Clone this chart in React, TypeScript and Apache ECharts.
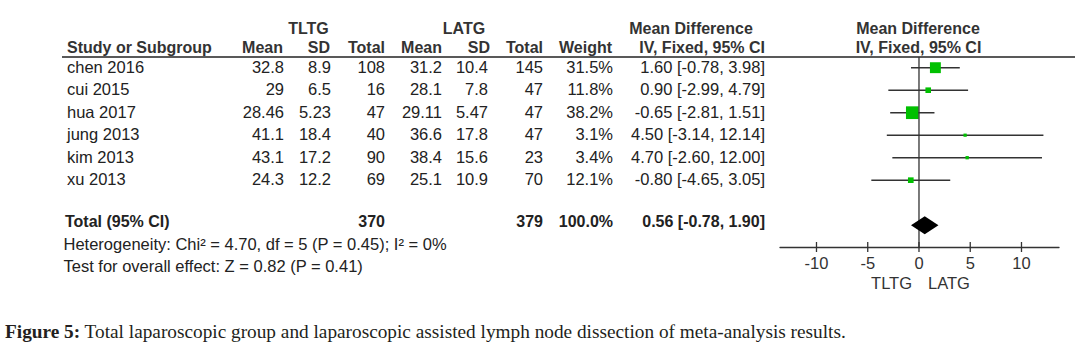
import React, { useEffect, useRef } from "react";
import * as echarts from "echarts";

const STUDIES = ["chen 2016", "cui 2015", "hua 2017", "jung 2013", "kim 2013", "xu 2013"];
const TLTG_MEAN = [32.8, 29, 28.46, 41.1, 43.1, 24.3];
const TLTG_SD = [8.9, 6.5, 5.23, 18.4, 17.2, 12.2];
const TLTG_TOTAL = [108, 16, 47, 40, 90, 69];
const LATG_MEAN = [31.2, 28.1, 29.11, 36.6, 38.4, 25.1];
const LATG_SD = [10.4, 7.8, 5.47, 17.8, 15.6, 10.9];
const LATG_TOTAL = [145, 47, 47, 47, 23, 70];
const WEIGHT = [31.5, 11.8, 38.2, 3.1, 3.4, 12.1];
const MD = [1.6, 0.9, -0.65, 4.5, 4.7, -0.8];
const CI_LOW = [-0.78, -2.99, -2.81, -3.14, -2.6, -4.65];
const CI_HIGH = [3.98, 4.79, 1.51, 12.14, 12.0, 3.05];
const TOTAL_N = [370, 379];
const TOTAL_WEIGHT = 100.0;
const POOLED = [0.56, -0.78, 1.9];
const X_TICKS = [-10, -5, 0, 5, 10];
const HETEROGENEITY = "Heterogeneity: Chi² = 4.70, df = 5 (P = 0.45); I² = 0%";
const OVERALL = "Test for overall effect: Z = 0.82 (P = 0.41)";
const GROUP_LEFT = "TLTG";
const GROUP_RIGHT = "LATG";
const CAPTION_BOLD = "Figure 5:";
const CAPTION = " Total laparoscopic group and laparoscopic assisted lymph node dissection of meta-analysis results.";

// layout
const X_MIN = -13.56;
const X_MAX = 13.66;
const Y_MIN = -0.475;
const Y_MAX = 7.969;
const TOTAL_ROW = 7;
const FONT = '"Liberation Sans", Arial, sans-serif';
const FS = 16.5;
const FSB = 16;
const TXT = "#222";
const HDR = "#333";
const ROW0 = 66.5;
const ROWH = 22.5;

function txt(text: string, x: number, y: number, align: string, bold = false, color = TXT) {
  return {
    type: "text",
    silent: true,
    style: {
      text,
      x,
      y,
      fontSize: bold ? FSB : FS,
      fontFamily: FONT,
      fontWeight: bold ? "bold" : "normal",
      fill: color,
      align,
      verticalAlign: "middle",
    },
  };
}

const fmt = (v: number) => String(v);
const ci = (m: number, l: number, h: number) => `${m.toFixed(2)} [${l.toFixed(2)}, ${h.toFixed(2)}]`;

function buildGraphics() {
  const g: any[] = [];
  // headers
  g.push(txt(GROUP_LEFT, 308.5, 28, "center", true, HDR));
  g.push(txt(GROUP_RIGHT, 464, 28, "center", true, HDR));
  g.push(txt("Mean Difference", 691, 28, "center", true, HDR));
  g.push(txt("Mean Difference", 918, 28, "center", true, HDR));
  const y2 = 47;
  g.push(txt("Study or Subgroup", 67, y2, "left", true, HDR));
  g.push(txt("Mean", 283, y2, "right", true, HDR));
  g.push(txt("SD", 330, y2, "right", true, HDR));
  g.push(txt("Total", 385, y2, "right", true, HDR));
  g.push(txt("Mean", 442, y2, "right", true, HDR));
  g.push(txt("SD", 490, y2, "right", true, HDR));
  g.push(txt("Total", 543, y2, "right", true, HDR));
  g.push(txt("Weight", 612, y2, "right", true, HDR));
  g.push(txt("IV, Fixed, 95% CI", 765, y2, "right", true, HDR));
  g.push(txt("IV, Fixed, 95% CI", 918.5, y2, "center", true, HDR));
  g.push({
    type: "line",
    silent: true,
    shape: { x1: 62, y1: 57, x2: 1075, y2: 57 },
    style: { stroke: "#222", lineWidth: 1.3 },
  });
  // rows
  STUDIES.forEach((s, i) => {
    const y = ROW0 + ROWH * i;
    g.push(txt(s, 67, y, "left"));
    g.push(txt(fmt(TLTG_MEAN[i]), 284, y, "right"));
    g.push(txt(fmt(TLTG_SD[i]), 331, y, "right"));
    g.push(txt(fmt(TLTG_TOTAL[i]), 385, y, "right"));
    g.push(txt(fmt(LATG_MEAN[i]), 442, y, "right"));
    g.push(txt(fmt(LATG_SD[i]), 488, y, "right"));
    g.push(txt(fmt(LATG_TOTAL[i]), 543, y, "right"));
    g.push(txt(`${WEIGHT[i].toFixed(1)}%`, 613, y, "right"));
    g.push(txt(ci(MD[i], CI_LOW[i], CI_HIGH[i]), 765, y, "right"));
  });
  // totals
  const yt = 221;
  g.push(txt("Total (95% CI)", 65, yt, "left", true));
  g.push(txt(String(TOTAL_N[0]), 385, yt, "right", true));
  g.push(txt(String(TOTAL_N[1]), 543, yt, "right", true));
  g.push(txt(`${TOTAL_WEIGHT.toFixed(1)}%`, 613, yt, "right", true));
  g.push(txt(ci(POOLED[0], POOLED[1], POOLED[2]), 765, yt, "right", true));
  g.push(txt(HETEROGENEITY, 63.5, 243.5, "left"));
  g.push(txt(OVERALL, 63.5, 266, "left"));
  // favours labels
  g.push(txt(GROUP_LEFT, 912, 283, "right", false, HDR));
  g.push(txt(GROUP_RIGHT, 928, 283, "left", false, HDR));
  // caption
  const SERIF = '"Liberation Serif", "Times New Roman", serif';
  g.push({
    type: "text",
    silent: true,
    style: {
      text: `{b|${CAPTION_BOLD}}${CAPTION}`,
      x: 5,
      y: 331.5,
      fontSize: 19.3,
      fontFamily: SERIF,
      fill: "#231f20",
      align: "left",
      verticalAlign: "middle",
      rich: {
        b: { fontSize: 19.3, fontWeight: "bold", fontFamily: SERIF, fill: "#231f20" },
      },
    },
  });
  return g;
}

export default function App() {
  const ref = useRef<HTMLDivElement>(null);
  useEffect(() => {
    if (!ref.current) return;
    const chart = echarts.init(ref.current, null, { renderer: "svg" });
    const studyData = STUDIES.map((_, i) => [i, MD[i], CI_LOW[i], CI_HIGH[i], WEIGHT[i]]);
    const axisStyle = { color: "#333", width: 1.3 };
    chart.setOption({
      animation: false,
      backgroundColor: "#fff",
      grid: { left: 780, width: 279, top: 57, height: 190 },
      xAxis: {
        type: "value",
        min: X_MIN,
        max: X_MAX,
        position: "bottom",
        splitLine: { show: false },
        axisLine: { show: true, onZero: false, lineStyle: axisStyle },
        axisTick: { show: false },
        axisLabel: {
          show: true,
          customValues: X_TICKS,
          margin: 7,
          fontSize: FS,
          fontFamily: FONT,
          color: HDR,
        },
      },
      yAxis: { type: "value", min: Y_MIN, max: Y_MAX, inverse: true, show: false },
      series: [
        {
          type: "custom",
          z: 2,
          data: studyData,
          encode: { x: [1, 2, 3], y: 0 },
          renderItem: (_p: any, api: any) => {
            const i = api.value(0);
            const a = api.coord([api.value(2), i]);
            const b = api.coord([api.value(3), i]);
            const c = api.coord([api.value(1), i]);
            const s = 2.4 + 0.27 * api.value(4);
            return {
              type: "group",
              children: [
                { type: "line", shape: { x1: a[0], y1: a[1], x2: b[0], y2: b[1] }, style: { stroke: "#333", lineWidth: 1.4 } },
                { type: "rect", shape: { x: c[0] - s / 2, y: c[1] - s / 2, width: s, height: s }, style: { fill: "#00c000" } },
              ],
            };
          },
        },
        {
          type: "custom",
          z: 3,
          data: [[0]],
          encode: { x: 0 },
          renderItem: (_p: any, api: any) => {
            const t = api.coord([api.value(0), Y_MIN]);
            const b = api.coord([api.value(0), Y_MAX]);
            return { type: "line", shape: { x1: t[0], y1: t[1], x2: b[0], y2: b[1] }, style: { stroke: "#333", lineWidth: 1.3 } };
          },
        },
        {
          type: "custom",
          z: 3,
          data: X_TICKS.map((v) => [v]),
          encode: { x: 0 },
          renderItem: (_p: any, api: any) => {
            const p = api.coord([api.value(0), Y_MAX]);
            return { type: "line", shape: { x1: p[0], y1: p[1] - 5, x2: p[0], y2: p[1] + 5 }, style: { stroke: "#333", lineWidth: 1.3 } };
          },
        },
        {
          type: "custom",
          z: 4,
          data: [[TOTAL_ROW, POOLED[0], POOLED[1], POOLED[2]]],
          encode: { x: [1, 2, 3], y: 0 },
          renderItem: (_p: any, api: any) => {
            const r = api.value(0);
            const l = api.coord([api.value(2), r]);
            const h = api.coord([api.value(3), r]);
            const m = api.coord([api.value(1), r]);
            const hh = 9;
            return {
              type: "polygon",
              shape: { points: [[l[0], l[1]], [m[0], m[1] - hh], [h[0], h[1]], [m[0], m[1] + hh]] },
              style: { fill: "#000" },
            };
          },
        },
      ],
      graphic: buildGraphics(),
    });
    return () => chart.dispose();
  }, []);
  return (
    <div
      ref={ref}
      style={{ position: "absolute", left: 0, top: 0, width: 1086, height: 347, background: "#fff" }}
    />
  );
}
